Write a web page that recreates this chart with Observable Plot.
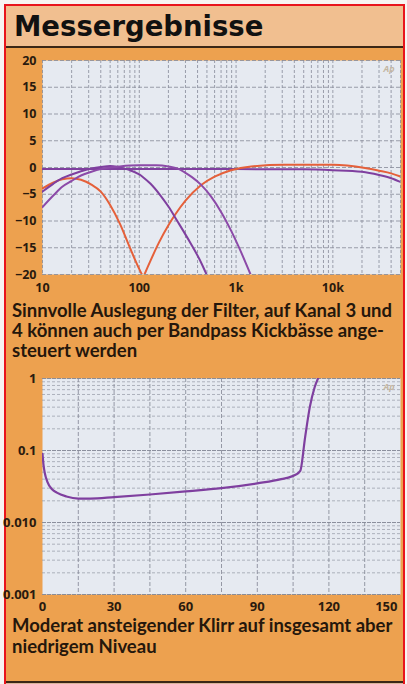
<!DOCTYPE html>
<html>
<head>
<meta charset="utf-8">
<script src="https://cdn.jsdelivr.net/npm/d3@7"></script>
<script src="https://cdn.jsdelivr.net/npm/@observablehq/plot@0.6"></script>
<style>
  html, body { margin: 0; padding: 0; background: #f7f4f2; }
  #page { position: relative; width: 407px; height: 684px; overflow: hidden; }
  #frame { position: absolute; left: 4px; top: 4px; width: 397px; height: 690px;
           border: 2px solid #e8141c; background: #eda14f; }
  #titleband { position: absolute; left: 6px; top: 6px; width: 397px; height: 40px; background: #f1bf90;
               border-bottom: 2px solid #3b2716; }
  #title { position: absolute; left: 14px; top: 11px; font: bold 27.5px "DejaVu Sans", sans-serif;
           line-height: 30px; color: #111; white-space: nowrap; }
  .cap { position: absolute; left: 12px; font-family: Lato, sans-serif; font-weight: bold; font-size: 18.5px;
         line-height: 14px; height: 14px; color: #25170c; white-space: nowrap; }
  #bottomline { position: absolute; left: 6px; top: 681px; width: 397px; height: 2px; background: #3b2716; }
  #below { position: absolute; left: 6px; top: 683px; width: 397px; height: 4px; background: #d9b49a; }
  .chart { position: absolute; left: 0; }
  #chart1 { top: 50px; }
  #chart2 { top: 368px; }
</style>
</head>
<body>
<div id="page">
  <div id="frame"></div>
  <div id="titleband"></div>
  <div id="title">Messergebnisse</div>
  <div id="chart1" class="chart"></div>
  <div class="cap" style="top:302.5px">Sinnvolle Auslegung der Filter, auf Kanal 3 und</div>
  <div class="cap" style="top:322.9px">4 können auch per Bandpass Kickbässe ange-</div>
  <div class="cap" style="top:343.3px">steuert werden</div>
  <div id="chart2" class="chart"></div>
  <div class="cap" style="top:617.6px">Moderat ansteigender Klirr auf insgesamt aber</div>
  <div class="cap" style="top:638.9px">niedrigem Niveau</div>
  <div id="bottomline"></div>
  <div id="below"></div>
</div>
<script>
// ---------- Chart 1: frequency responses (Hz, dB) ----------
const flatFreq = [10, 100, 1000, 5000, 10000, 20000, 30000, 40000, 50000];
const flatDb   = [-0.3, -0.3, -0.3, -0.35, -0.5, -0.8, -1.4, -2.0, -2.7];

const lpOrangeFreq = [10, 13, 16, 20, 25, 32, 40, 50, 63, 80, 100, 110];
const lpOrangeDb   = [-3.9, -2.8, -2.2, -2.0, -2.3, -3.2, -4.5, -7.0, -10.5, -15.0, -19.0, -20.5];

const hpOrangeFreq = [110, 130, 160, 200, 237, 300, 433, 600, 888, 1430, 3160, 10000, 21500, 30000, 40000, 50000];
const hpOrangeDb   = [-20.5, -17.5, -14.0, -10.8, -8.7, -6.2, -3.3, -1.7, -0.5, 0.2, 0.5, 0.5, -0.1, -0.6, -1.1, -1.7];

const bpAFreq = [10, 13, 16, 20, 25, 32, 40, 50, 63, 80, 100, 111, 130, 165, 200, 247, 340, 420, 510];
const bpADb   = [-4.5, -3.0, -2.0, -1.3, -0.7, -0.2, 0.1, 0.3, 0.0, -0.5, -1.3, -1.9, -3.0, -5.2, -7.3, -10.0, -14.2, -17.2, -20.5];

const bpBFreq = [10, 13, 16, 20, 25, 32, 40, 50, 63, 100, 150, 200, 250, 300, 350, 433, 550, 700, 888, 1100, 1450];
const bpBDb   = [-7.4, -5.2, -3.6, -2.5, -1.5, -0.8, -0.3, 0.0, 0.2, 0.4, 0.4, 0.2, -0.2, -1.0, -1.8, -3.2, -5.4, -8.3, -11.8, -15.4, -20.5];

const dbTicks = [-20, -15, -10, -5, 0, 5, 10, 15, 20];
const freqTicks = [10, 100, 1000, 10000];
const freqTickLabels = ["10", "100", "1k", "10k"];
const freqEndTick = [50000];
const freqEndLabel = ["50k"];

// ---------- Chart 2: distortion vs. power ----------
const powerW = [0, 0.5, 1, 2, 4, 6, 10, 15, 20, 30, 45, 60, 75, 90, 100, 106, 108, 110, 112, 114, 116];
const thdPct = [0.09, 0.06, 0.048, 0.037, 0.029, 0.026, 0.023, 0.0215, 0.0215, 0.0225, 0.0245, 0.027, 0.030, 0.035, 0.040, 0.046, 0.052, 0.15, 0.4, 0.75, 1.1];
const powerTicks = [0, 30, 60, 90, 120];
const powerEndTick = [150];
const thdTicks = [1, 0.1, 0.01, 0.001];
const thdTickLabels = ["1", "0.1", "0.010", "0.001"];

const ORANGE = "#e5603a";
const PURPLE = "#7f3f9f";
const PURPLE2 = "#8c4aa8";
const GRID = "#868a98";
const PLOTBG = "#e6eaf1";
const TICKCOL = "#2a1a0e";

const zip = (xs, ys, key) => xs.map((x, i) => ({x, y: ys[i], key}));
const labelFor = (ticks, labels) => d => labels[ticks.findIndex(t => Math.abs(t - d) <= 1e-9 * Math.max(1, Math.abs(t)))];

// log grid helpers (axis structure, not data)
const freqGrid = [];
for (const dec of [10, 100, 1000, 10000]) for (let m = 1; m <= 9; m++) { const f = dec * m; if (f <= 50000) freqGrid.push(f); }
const thdGridMinor = [];
for (const dec of [0.001, 0.01, 0.1]) for (let m = 2; m <= 9; m++) thdGridMinor.push(dec * m);

const curves1 = [
  zip(flatFreq, flatDb, "flat"),
  zip(lpOrangeFreq, lpOrangeDb, "lpO"),
  zip(hpOrangeFreq, hpOrangeDb, "hpO"),
  zip(bpAFreq, bpADb, "bpA"),
  zip(bpBFreq, bpBDb, "bpB")
];
const colorOf = {flat: PURPLE, lpO: ORANGE, hpO: ORANGE, bpA: PURPLE, bpB: PURPLE2};

const chart1 = Plot.plot({
  width: 407, height: 249,
  marginLeft: 42, marginRight: 7, marginTop: 10, marginBottom: 25,
  style: {background: "transparent", fontFamily: "'Open Sans', sans-serif", fontWeight: "bold", color: TICKCOL, overflow: "visible"},
  x: {type: "log", domain: [10, 50000]},
  y: {domain: [-20, 20]},
  marks: [
    Plot.frame({fill: PLOTBG, stroke: null}),
    Plot.ruleX(freqGrid, {stroke: GRID, strokeWidth: 1, strokeDasharray: "3,2", strokeOpacity: 0.8}),
    Plot.ruleY(dbTicks, {stroke: GRID, strokeWidth: 1, strokeDasharray: "4,2", strokeOpacity: 0.8}),
    ...curves1.map(c => Plot.line(c, {x: "x", y: "y", stroke: colorOf[c[0].key], strokeWidth: 2, curve: "monotone-x", clip: true})),
    Plot.text(["Ap"], {frameAnchor: "top-right", dx: -6, dy: 5, fill: "#c3b6a2", fontSize: 9, fontStyle: "italic"}),
    Plot.axisY({ticks: dbTicks, tickSize: 0, tickPadding: 6, fontSize: 12.5, label: null, fill: TICKCOL}),
    Plot.axisX({ticks: freqTicks, tickFormat: labelFor(freqTicks, freqTickLabels), tickSize: 0, tickPadding: 9, fontSize: 12.5, label: null, fill: TICKCOL}),
    Plot.axisX({ticks: freqEndTick, tickFormat: labelFor(freqEndTick, freqEndLabel), tickSize: 0, tickPadding: 9, fontSize: 12.5, label: null, textAnchor: "end", dx: -2, fill: TICKCOL})
  ]
});
document.getElementById("chart1").append(chart1);

const thdData = zip(powerW, thdPct, "thd");
const chart2 = Plot.plot({
  width: 407, height: 248,
  marginLeft: 42, marginRight: 7, marginTop: 10, marginBottom: 22,
  style: {background: "transparent", fontFamily: "'Open Sans', sans-serif", fontWeight: "bold", color: TICKCOL, overflow: "visible"},
  x: {domain: [0, 150]},
  y: {type: "log", domain: [0.001, 1]},
  marks: [
    Plot.frame({fill: PLOTBG, stroke: null}),
    Plot.ruleY(thdGridMinor, {stroke: GRID, strokeWidth: 1, strokeDasharray: "3,2", strokeOpacity: 0.6}),
    Plot.ruleY(thdTicks, {stroke: GRID, strokeWidth: 1, strokeDasharray: "4,1", strokeOpacity: 0.95}),
    Plot.ruleX(d3.range(15, 150, 15), {stroke: GRID, strokeWidth: 1, strokeDasharray: "4,2", strokeOpacity: 0.85}),
    Plot.line(thdData, {x: "x", y: "y", stroke: PURPLE, strokeWidth: 2.2, curve: "monotone-x", clip: true}),
    Plot.text(["Ap"], {frameAnchor: "top-right", dx: -6, dy: 5, fill: "#c3b6a2", fontSize: 9, fontStyle: "italic"}),
    Plot.axisY({ticks: thdTicks, tickFormat: labelFor(thdTicks, thdTickLabels), tickSize: 0, tickPadding: 6, fontSize: 13, label: null, fill: TICKCOL}),
    Plot.axisX({ticks: powerTicks, tickFormat: d => String(d), tickSize: 0, tickPadding: 7, fontSize: 13, label: null, fill: TICKCOL}),
    Plot.axisX({ticks: powerEndTick, tickFormat: d => String(d), tickSize: 0, tickPadding: 7, fontSize: 13, label: null, textAnchor: "end", dx: -3, fill: TICKCOL})
  ]
});
document.getElementById("chart2").append(chart2);
</script>
</body>
</html>
